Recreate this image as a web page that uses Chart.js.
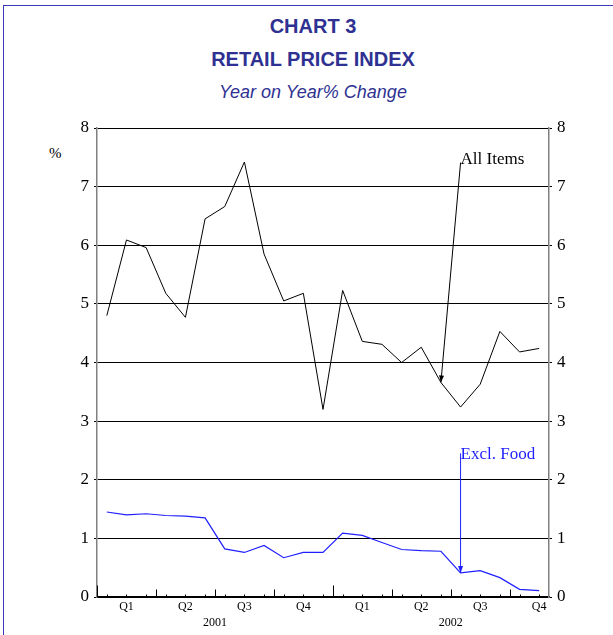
<!DOCTYPE html>
<html>
<head>
<meta charset="utf-8">
<script src="https://cdn.jsdelivr.net/npm/chart.js@4.4.1/dist/chart.umd.min.js"></script>
<style>
  html, body { margin: 0; padding: 0; background: #fff; }
  #wrap { position: relative; width: 613px; height: 635px; overflow: hidden; }
  #frame { position: absolute; left: 3px; top: 5px; width: 700px; height: 700px;
           border-left: 1.5px solid #3a3ab8; border-top: 1.5px solid #3a3ab8; }
  .ttl { position: absolute; left: 0; width: 626px; text-align: center; color: #2e3192;
         font-family: "Liberation Sans", Arial, sans-serif; white-space: nowrap; }
  #pct { position: absolute; left: 49px; top: 145px; font: 15px "Liberation Serif", serif; }
  canvas { position: absolute; left: 0; top: 0; }
</style>
</head>
<body>
<div id="wrap">
  <div id="frame"></div>
  <div class="ttl" style="top:15px;font-size:20px;font-weight:bold;">CHART 3</div>
  <div class="ttl" style="top:48px;font-size:20px;font-weight:bold;">RETAIL PRICE INDEX</div>
  <div class="ttl" style="top:82px;font-size:18px;font-style:italic;">Year on Year% Change</div>
  <div id="pct">%</div>
  <canvas id="c" width="613" height="635"></canvas>
</div>
<script>
// monthly, Jan 2001 .. Nov 2002
const months = [
  'Jan 01', 'Feb 01', 'Mar 01', 'Apr 01', 'May 01', 'Jun 01', 'Jul 01', 'Aug 01', 'Sep 01', 'Oct 01', 'Nov 01', 'Dec 01',
  'Jan 02', 'Feb 02', 'Mar 02', 'Apr 02', 'May 02', 'Jun 02', 'Jul 02', 'Aug 02', 'Sep 02', 'Oct 02', 'Nov 02'
];
const quarterLabels = ['', 'Q1', '', '', 'Q2', '', '', 'Q3', '', '', 'Q4', '', '', 'Q1', '', '', 'Q2', '', '', 'Q3', '', '', 'Q4'];
const years = ['2001', '2002'];

const allItems = [4.80, 6.09, 5.96, 5.18, 4.77, 6.45, 6.66, 7.42, 5.85, 5.05, 5.18, 3.20,
                  5.23, 4.36, 4.31, 4.00, 4.26, 3.66, 3.24, 3.63, 4.53, 4.18, 4.24];
const exclFood = [1.45, 1.40, 1.42, 1.39, 1.38, 1.35, 0.82, 0.76, 0.88, 0.67, 0.76, 0.76,
                  1.09, 1.05, 0.93, 0.81, 0.79, 0.78, 0.41, 0.45, 0.33, 0.13, 0.11];

const yTicks = [0, 1, 2, 3, 4, 5, 6, 7, 8];

// annotation anchors (category index, value)
const allItemsNote = { text: 'All Items', at: [18, 7.41], to: [17, 3.66], color: '#000', dy: 1 };
const exclFoodNote = { text: 'Excl. Food', at: [18, 2.45], to: [18, 0.41], color: '#1f1fff', dy: 6 };

const serif = '"Liberation Serif", "Times New Roman", serif';

// small month ticks + taller quarter / year ticks, pointing up into the plot
const monthTicks = {
  id: 'monthTicks',
  afterDatasetsDraw(chart) {
    const { ctx, chartArea, scales } = chart;
    const xs = scales.x;
    const b = Math.round(chartArea.bottom) + 0.5;
    ctx.save();
    ctx.strokeStyle = '#000';
    ctx.lineWidth = 1;
    ctx.beginPath();
    months.forEach((m, i) => {
      const x = Math.round(xs.getPixelForValue(i)) + 0.5;
      ctx.moveTo(x, b); ctx.lineTo(x, b - 3);
      if (i % 3 === 0) {
        const xb = Math.round(xs.getPixelForValue(i - 0.5)) + 0.5;
        const h = i % 12 === 0 ? 12 : 8;
        ctx.moveTo(xb, b); ctx.lineTo(xb, b - h);
      }
    });
    ctx.stroke();
    ctx.restore();
  },
};

function drawNote(chart, note) {
  const { ctx, scales } = chart;
  const x0 = scales.x.getPixelForValue(note.at[0]);
  const y0 = scales.y.getPixelForValue(note.at[1]);
  const x1 = scales.x.getPixelForValue(note.to[0]);
  const y1 = scales.y.getPixelForValue(note.to[1]);
  ctx.save();
  ctx.strokeStyle = note.color;
  ctx.fillStyle = note.color;
  ctx.lineWidth = 1;
  ctx.beginPath();
  ctx.moveTo(x0, y0); ctx.lineTo(x1, y1);
  ctx.stroke();
  const ang = Math.atan2(y1 - y0, x1 - x0);
  const len = 7, wid = 2.5;
  ctx.beginPath();
  ctx.moveTo(x1, y1);
  ctx.lineTo(x1 - len * Math.cos(ang) + wid * Math.sin(ang), y1 - len * Math.sin(ang) - wid * Math.cos(ang));
  ctx.lineTo(x1 - len * Math.cos(ang) - wid * Math.sin(ang), y1 - len * Math.sin(ang) + wid * Math.cos(ang));
  ctx.closePath();
  ctx.fill();
  ctx.font = '17px ' + serif;
  ctx.textAlign = 'left';
  ctx.textBaseline = 'alphabetic';
  ctx.fillText(note.text, x0, y0 + note.dy);
  ctx.restore();
}

const notes = {
  id: 'notes',
  afterDatasetsDraw(chart) {
    drawNote(chart, allItemsNote);
    drawNote(chart, exclFoodNote);
  },
};

new Chart(document.getElementById('c').getContext('2d'), {
  type: 'line',
  plugins: [monthTicks, notes],
  data: {
    labels: months,
    datasets: [
      { label: 'All Items', data: allItems, borderColor: '#000', borderWidth: 1, pointRadius: 0, tension: 0, fill: false },
      { label: 'Excl. Food', data: exclFood, borderColor: '#1f1fff', borderWidth: 1.2, pointRadius: 0, tension: 0, fill: false },
    ],
  },
  options: {
    responsive: false,
    animation: false,
    layout: { padding: { top: 128, left: 0, right: 0, bottom: 0 } },
    plugins: { legend: { display: false }, tooltip: { enabled: false }, title: { display: false } },
    scales: {
      x: {
        type: 'category',
        position: 'bottom',
        offset: true,
        weight: 0,
        grid: { display: false, drawTicks: false, tickLength: 0 },
        border: { display: true, color: '#000', width: 1.5 },
        ticks: {
          autoSkip: false, maxRotation: 0, minRotation: 0, padding: 3,
          color: '#000', font: { family: serif, size: 12 },
          callback: (v, i) => quarterLabels[i],
        },
        afterFit: (s) => { s.height = 19; },
      },
      x2: {
        type: 'linear',
        position: 'bottom',
        weight: 1,
        min: -0.5,
        max: months.length - 0.5,
        grid: { display: false, drawTicks: false, tickLength: 0 },
        border: { display: false },
        afterBuildTicks: (s) => { s.ticks = years.map((y, i) => ({ value: i * 12 + 5.5 })); },
        ticks: {
          autoSkip: false, maxRotation: 0, padding: 0,
          color: '#000', font: { family: serif, size: 12 },
          callback: (v, i) => years[i],
        },
        afterFit: (s) => { s.height = 19; },
      },
      y: {
        position: 'left',
        min: 0, max: 8,
        afterBuildTicks: (s) => { s.ticks = yTicks.map(v => ({ value: v })); },
        grid: { color: '#000', lineWidth: 1, tickLength: 3 },
        border: { color: '#808080', width: 1.5 },
        ticks: { color: '#000', padding: 5, font: { family: serif, size: 17 } },
        afterFit: (s) => { s.width = 97; },
      },
      y2: {
        position: 'right',
        min: 0, max: 8,
        afterBuildTicks: (s) => { s.ticks = yTicks.map(v => ({ value: v })); },
        grid: { drawOnChartArea: false, color: '#000', tickLength: 3 },
        border: { color: '#808080', width: 1.5 },
        ticks: { color: '#000', padding: 5, font: { family: serif, size: 17 } },
        afterFit: (s) => { s.width = 64; },
      },
    },
  },
});
</script>
</body>
</html>
